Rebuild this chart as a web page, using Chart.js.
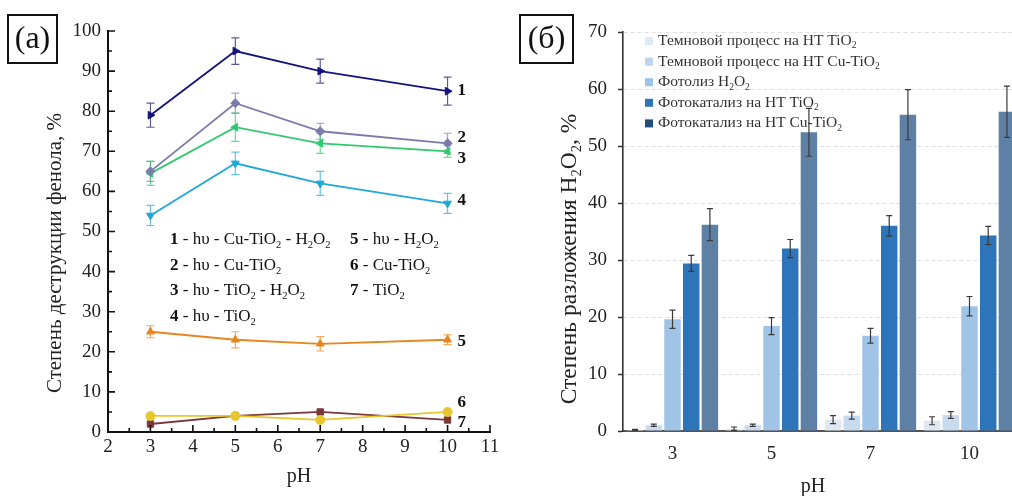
<!DOCTYPE html>
<html>
<head>
<meta charset="utf-8">
<script src="https://cdn.jsdelivr.net/npm/chart.js@4.4.1/dist/chart.umd.min.js"></script>
<style>
html, body { margin: 0; padding: 0; background: #fff; overflow: hidden; width: 1012px; height: 496px; }
#phenol { position: absolute; left: 0; top: 0; }
#peroxide { position: absolute; left: 510px; top: 0; }
</style>
</head>
<body>
<canvas id="phenol" width="510" height="496"></canvas>
<canvas id="peroxide" width="520" height="496"></canvas>
<script>
const SERIF = "'Liberation Serif', 'DejaVu Serif', serif";

// ---- (a) phenol destruction vs pH ----
const phA = [3, 5, 7, 10];
const namesA = ['hυ - Cu-TiO_2 - H_2O_2', 'hυ - Cu-TiO_2', 'hυ - TiO_2 - H_2O_2', 'hυ - TiO_2',
                'hυ - H_2O_2', 'Cu-TiO_2', 'TiO_2'];
const s1 = [79, 95, 90, 85],   e1 = [3, 3.3, 3, 3.5];
const s2 = [65, 82, 75, 72],   e2 = [2.5, 2.5, 2, 2.5];
const s3 = [64.5, 76, 72, 70], e3 = [3, 3.5, 2.5, 1.5];
const s4 = [54, 67, 62, 57],   e4 = [2.5, 2.8, 3, 2.5];
const s5 = [25, 23, 22, 23],   e5 = [1.5, 2, 1.8, 1.2];
const s6 = [4, 4, 3, 5];
const s7 = [2, 4, 5, 3];

// ---- (б) H2O2 decomposition vs pH ----
const phB = ['3', '5', '7', '10'];
const namesB = ['Темновой процесс на НТ TiO_2', 'Темновой процесс на НТ Cu-TiO_2', 'Фотолиз H_2O_2',
                'Фотокатализ на НТ TiO_2', 'Фотокатализ на НТ Cu-TiO_2'];
const darkTi   = [0.2, 0.4, 2.0, 1.8],    darkTiErr   = [0.1, 0.3, 0.7, 0.7];
const darkCuTi = [1.0, 1.0, 2.7, 2.8],    darkCuTiErr = [0.2, 0.2, 0.6, 0.6];
const photolys = [19.6, 18.4, 16.7, 21.9], photolysErr = [1.6, 1.5, 1.3, 1.7];
const catTi    = [29.4, 32.0, 36.0, 34.3], catTiErr    = [1.4, 1.6, 1.8, 1.6];
const catCuTi  = [36.2, 52.4, 55.5, 56.0], catCuTiErr  = [2.8, 4.2, 4.4, 4.5];

// text with "_x" meaning subscript x
function richText(ctx, str, x, y, size, weight, align) {
  const parts = str.split(/(_.)/).filter(Boolean);
  const font = s => (weight || 'normal') + ' ' + s + 'px ' + SERIF;
  let w = 0;
  parts.forEach(p => {
    const sub = p[0] === '_';
    ctx.font = font(sub ? size * 0.62 : size);
    w += ctx.measureText(sub ? p.slice(1) : p).width;
  });
  let cx = align === 'center' ? x - w / 2 : x;
  ctx.textAlign = 'left';
  ctx.textBaseline = 'middle';
  parts.forEach(p => {
    const sub = p[0] === '_';
    const t = sub ? p.slice(1) : p;
    ctx.font = font(sub ? size * 0.62 : size);
    ctx.fillText(t, cx, sub ? y + size * 0.32 : y);
    cx += ctx.measureText(t).width;
  });
  return cx;
}

function boxLabel(ctx, txt, x, y, w, h) {
  ctx.save();
  ctx.strokeStyle = '#111';
  ctx.lineWidth = 2;
  ctx.strokeRect(x, y, w, h);
  ctx.fillStyle = '#111';
  ctx.font = '32px ' + SERIF;
  ctx.textAlign = 'center';
  ctx.textBaseline = 'middle';
  ctx.fillText(txt, x + w / 2, y + h / 2 + 1);
  ctx.restore();
}

const seriesA = [
  {data: s1, err: e1, color: '#15137c', style: 'triangle', rot: 90},
  {data: s2, err: e2, color: '#7b7bab', style: 'rectRot', rot: 0},
  {data: s3, err: e3, color: '#31c872', style: 'triangle', rot: -90},
  {data: s4, err: e4, color: '#1fa7d8', style: 'triangle', rot: 180},
  {data: s5, err: e5, color: '#e8861e', style: 'triangle', rot: 0},
  {data: s6, err: null, color: '#e6c72c', style: 'circle', rot: 0},
  {data: s7, err: null, color: '#7a3838', style: 'rect', rot: 0}
];
const labelNudge = [-1, -6, 7, -3, 2, -9, 3];

const phenolDecor = {
  id: 'phenolDecor',
  beforeDatasetsDraw(chart) {
    const {ctx, scales: {x, y}} = chart;
    ctx.save();
    ctx.lineWidth = 1.2;
    chart.data.datasets.forEach(ds => {
      if (!ds.err) return;
      ctx.strokeStyle = ds.borderColor;
      ctx.globalAlpha = 0.7;
      ds.data.forEach((p, i) => {
        const px = x.getPixelForValue(p.x);
        const top = y.getPixelForValue(p.y + ds.err[i]);
        const bot = y.getPixelForValue(p.y - ds.err[i]);
        ctx.beginPath();
        ctx.moveTo(px, top); ctx.lineTo(px, bot);
        ctx.moveTo(px - 4, top); ctx.lineTo(px + 4, top);
        ctx.moveTo(px - 4, bot); ctx.lineTo(px + 4, bot);
        ctx.stroke();
      });
    });
    ctx.restore();
  },
  afterDraw(chart) {
    const {ctx, chartArea: ca, scales: {x, y}} = chart;
    ctx.save();
    // inward ticks
    ctx.strokeStyle = '#111';
    ctx.lineWidth = 1.6;
    ctx.beginPath();
    for (let v = 2.5; v <= 11; v += 0.5) {
      const px = x.getPixelForValue(v);
      const len = Number.isInteger(v) ? 7 : 4;
      ctx.moveTo(px, ca.bottom); ctx.lineTo(px, ca.bottom - len);
    }
    for (let v = 5; v <= 100; v += 5) {
      const py = y.getPixelForValue(v);
      const len = v % 10 === 0 ? 7 : 4;
      ctx.moveTo(ca.left, py); ctx.lineTo(ca.left + len, py);
    }
    ctx.stroke();

    // series numbers at the last point
    ctx.fillStyle = '#111';
    chart.data.datasets.forEach((ds, i) => {
      const last = ds.data[ds.data.length - 1];
      ctx.font = 'bold 17px ' + SERIF;
      ctx.textAlign = 'left';
      ctx.textBaseline = 'middle';
      ctx.fillText(String(i + 1), x.getPixelForValue(last.x) + 10, y.getPixelForValue(last.y) + labelNudge[i]);
    });

    // key block
    namesA.forEach((name, i) => {
      const col = i < 4 ? 0 : 1;
      const row = i < 4 ? i : i - 4;
      const lx = ca.left + 62 + col * 180;
      const ly = 240 + row * 25.5;
      ctx.fillStyle = '#111';
      const nx = richText(ctx, String(i + 1), lx, ly, 17, 'bold');
      richText(ctx, ' - ' + name, nx, ly, 17);
    });

    // axis titles
    ctx.fillStyle = '#222';
    richText(ctx, 'pH', (ca.left + ca.right) / 2, 477, 20, 'normal', 'center');
    ctx.translate(55, 253);
    ctx.rotate(-Math.PI / 2);
    richText(ctx, 'Степень деструкции фенола, %', 0, 0, 21, 'normal', 'center');
    ctx.restore();

    boxLabel(ctx, '(a)', 8, 15, 49, 48);
  }
};

new Chart(document.getElementById('phenol'), {
  type: 'line',
  data: {
    datasets: seriesA.map(s => ({
      data: s.data.map((v, i) => ({x: phA[i], y: v})),
      err: s.err,
      borderColor: s.color,
      backgroundColor: s.color,
      borderWidth: 1.8,
      pointStyle: s.style,
      pointRotation: s.rot,
      pointRadius: 4.5,
      pointBorderWidth: 1,
      tension: 0
    }))
  },
  options: {
    responsive: false,
    animation: false,
    layout: {padding: {left: 0, top: 31, right: 20, bottom: 0}},
    plugins: {legend: {display: false}, tooltip: {enabled: false}},
    scales: {
      x: {
        type: 'linear', min: 2, max: 11,
        ticks: {stepSize: 1, color: '#222', font: {family: SERIF, size: 19}, padding: 4},
        grid: {drawOnChartArea: false, drawTicks: false},
        border: {color: '#111', width: 2},
        afterFit: s => { s.height = 64; }
      },
      y: {
        min: 0, max: 100,
        ticks: {stepSize: 10, color: '#222', font: {family: SERIF, size: 19}, padding: 7},
        grid: {drawOnChartArea: false, drawTicks: false},
        border: {color: '#111', width: 2},
        afterFit: s => { s.width = 108; }
      }
    }
  },
  plugins: [phenolDecor]
});

// ---- (б) ----
const barColors = ['#dfe8f2', '#c8dbee', '#9fc4e6', '#2e74b8', '#5e80a4'];
const keyColors = ['#dce8f4', '#bdd4ea', '#9dc3e6', '#2e75b6', '#1f4e79'];
const seriesB = [
  [darkTi, darkTiErr], [darkCuTi, darkCuTiErr], [photolys, photolysErr], [catTi, catTiErr], [catCuTi, catCuTiErr]
];

const peroxideDecor = {
  id: 'peroxideDecor',
  afterDatasetsDraw(chart) {
    const {ctx, scales: {y}} = chart;
    ctx.save();
    ctx.strokeStyle = '#3a3a3a';
    ctx.lineWidth = 1.2;
    chart.data.datasets.forEach((ds, di) => {
      const meta = chart.getDatasetMeta(di);
      meta.data.forEach((bar, i) => {
        const v = ds.data[i], e = ds.err[i];
        const top = y.getPixelForValue(v + e);
        const bot = y.getPixelForValue(Math.max(v - e, 0));
        ctx.beginPath();
        ctx.moveTo(bar.x, top); ctx.lineTo(bar.x, bot);
        ctx.moveTo(bar.x - 3, top); ctx.lineTo(bar.x + 3, top);
        ctx.moveTo(bar.x - 3, bot); ctx.lineTo(bar.x + 3, bot);
        ctx.stroke();
      });
    });
    ctx.restore();
  },
  afterDraw(chart) {
    const {ctx, chartArea: ca} = chart;
    ctx.save();
    namesB.forEach((name, i) => {
      const ly = 41 + i * 20.6;
      ctx.fillStyle = keyColors[i];
      ctx.fillRect(ca.left + 22, ly - 4, 8, 8);
      ctx.fillStyle = '#333';
      richText(ctx, name, ca.left + 35, ly, 15.5);
    });
    ctx.fillStyle = '#222';
    richText(ctx, 'pH', (ca.left + ca.right) / 2 - 8, 487, 20, 'normal', 'center');
    ctx.translate(60, 259);
    ctx.rotate(-Math.PI / 2);
    richText(ctx, 'Степень разложения H_2O_2, %', 0, 0, 23.5, 'normal', 'center');
    ctx.restore();

    boxLabel(ctx, '(б)', 10, 15, 53, 48);
  }
};

new Chart(document.getElementById('peroxide'), {
  type: 'bar',
  data: {
    labels: phB,
    datasets: seriesB.map((s, i) => ({
      data: s[0],
      err: s[1],
      backgroundColor: barColors[i],
      borderWidth: 0,
      categoryPercentage: 0.945,
      barPercentage: 0.88
    }))
  },
  options: {
    responsive: false,
    animation: false,
    layout: {padding: {left: 0, top: 32, right: 11, bottom: 0}},
    plugins: {legend: {display: false}, tooltip: {enabled: false}},
    scales: {
      x: {
        ticks: {color: '#222', font: {family: SERIF, size: 19}, padding: 12},
        grid: {drawOnChartArea: false, drawTicks: false},
        border: {color: '#555', width: 2},
        afterFit: s => { s.height = 65; }
      },
      y: {
        min: 0, max: 70,
        ticks: {stepSize: 10, color: '#222', font: {family: SERIF, size: 19}, padding: 11},
        grid: {color: '#dedede', lineWidth: 1, tickColor: '#333', tickLength: 5, tickWidth: 1.5, tickBorderDash: []},
        border: {color: '#333', width: 1.6, dash: [4, 3]},
        afterFit: s => { s.width = 113; }
      }
    }
  },
  plugins: [peroxideDecor]
});
</script>
</body>
</html>
